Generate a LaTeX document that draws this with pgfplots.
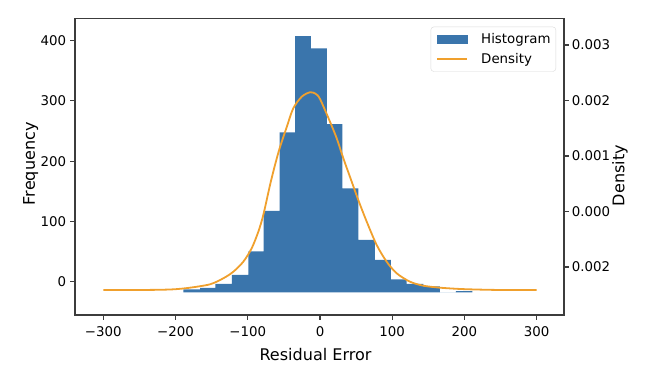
\documentclass[border=0pt]{standalone}
\usepackage{fontspec}
\setmainfont{DejaVu Sans}
\usepackage{pgfplots}
\pgfplotsset{compat=1.18}
\definecolor{histblue}{RGB}{58,117,172}
\definecolor{densorange}{RGB}{240,160,45}
\definecolor{axgray}{RGB}{60,60,60}
\newcommand{\tickfont}{\fontsize{13.4}{16}\selectfont}
\newcommand{\labfont}{\fontsize{16.1}{19}\selectfont}
\begin{document}
\begin{tikzpicture}
\path[use as bounding box] (-75bp,-63bp) rectangle (573bp,315bp);
\begin{axis}[
  scale only axis, width=489bp, height=296.5bp,
  at={(0,0)}, anchor=south west,
  xmin=-339.2, xmax=337.8, ymin=-37.7, ymax=454.4,
  xtick pos=left, ytick pos=left,
  tick align=outside, major tick length=4.7bp,
  tick style={axgray, line width=1.07bp},
  axis line style={axgray, line width=1.07bp},
  xtick={-300,-200,-100,0,100,200,300},
  xticklabels={−300,−200,−100,0,100,200,300},
  ytick={17.6,117.6,217.6,317.6,417.6},
  yticklabels={0,100,200,300,400},
  ticklabel style={font=\tickfont},
  xticklabel style={anchor=base, yshift=-17bp},
  yticklabel style={anchor=east, inner sep=0pt, xshift=-4bp},
  xlabel={Residual Error}, ylabel={Frequency},
  label style={font=\labfont},
  xlabel style={at={(axis description cs:0.5,0)}, anchor=base, yshift=-45.7bp, xshift=-4bp},
  ylabel style={at={(axis description cs:-0.0904,0.51)}, anchor=center},
]
\addplot[ybar interval, fill=histblue, draw=none] coordinates {
(-189,5) (-166,7.5) (-145,14) (-122,28.7) (-99.3,68) (-78,135) (-56,265.6)
(-34.3,425) (-12.7,405) (9.5,279) (31,172.6) (53.2,86.8) (76,53.6) (98,21.6)
(120,13.8) (143,10) (166,0) (188,2) (211,0)};
\end{axis}
\begin{axis}[
  scale only axis, width=489bp, height=296.5bp,
  at={(0,0)}, anchor=south west,
  xmin=-339.2, xmax=337.8, ymin=-0.001865, ymax=0.003477,
  axis x line=none, axis y line*=right,
  scaled y ticks=false,
  tick align=outside, major tick length=4.7bp,
  tick style={axgray, line width=1.07bp},
  axis line style={axgray, line width=1.07bp},
  ytick={-0.001,0,0.001,0.002,0.003},
  yticklabels={0.002,0.000,0.001,0.002,0.003},
  ticklabel style={font=\tickfont},
  yticklabel style={anchor=west, inner sep=0pt, xshift=3bp},
  ylabel={Density},
  ylabel style={font=\labfont, at={(axis description cs:1.1145,0.47)}, anchor=center},
  legend style={at={(1,1)}, anchor=north east, xshift=-8bp, yshift=-8.2bp,
    draw=black!15, rounded corners=3bp, fill=white, font=\tickfont,
    inner xsep=5.3bp, inner ysep=6.5bp, row sep=8.3bp,
    nodes={inner sep=0pt},
    /tikz/every odd column/.append style={column sep=13.3bp}},
  legend cell align=left,
]
\addlegendimage{legend image code/.code={\fill[histblue, sharp corners] (0bp,-4.2bp) rectangle (30bp,4.2bp);}}
\addlegendentry{Histogram}
\addplot[densorange, line width=1.8bp, smooth,
  legend image code/.code={\draw[densorange, line width=1.8bp, sharp corners] (0bp,0bp) -- (30bp,0bp);}]
coordinates {
(-300,-0.001414) (-250,-0.001414) (-220,-0.001410) (-200,-0.001400)
(-180,-0.001373) (-152.3,-0.001312) (-133.9,-0.001204) (-120,-0.001085)
(-106.2,-0.000905) (-94.6,-0.000663) (-85.4,-0.000364) (-78.5,-0.000063)
(-69.2,0.000477) (-62.3,0.000838) (-55.4,0.001160) (-46.1,0.001520)
(-37,0.001859) (-25.3,0.002068) (-13.8,0.002148) (-6,0.002120) (0,0.002027)
(13.8,0.001618) (23.1,0.001319) (32.3,0.000959) (43.9,0.000537)
(53,0.000207) (64.7,-0.000184) (78.5,-0.000604) (92.3,-0.000905)
(106.2,-0.001114) (124.6,-0.001265) (143,-0.001337) (166.1,-0.001373)
(193.8,-0.001396) (220,-0.001407) (250,-0.001414) (300,-0.001414)};
\addlegendentry{Density}
\end{axis}
\end{tikzpicture}
\end{document}
